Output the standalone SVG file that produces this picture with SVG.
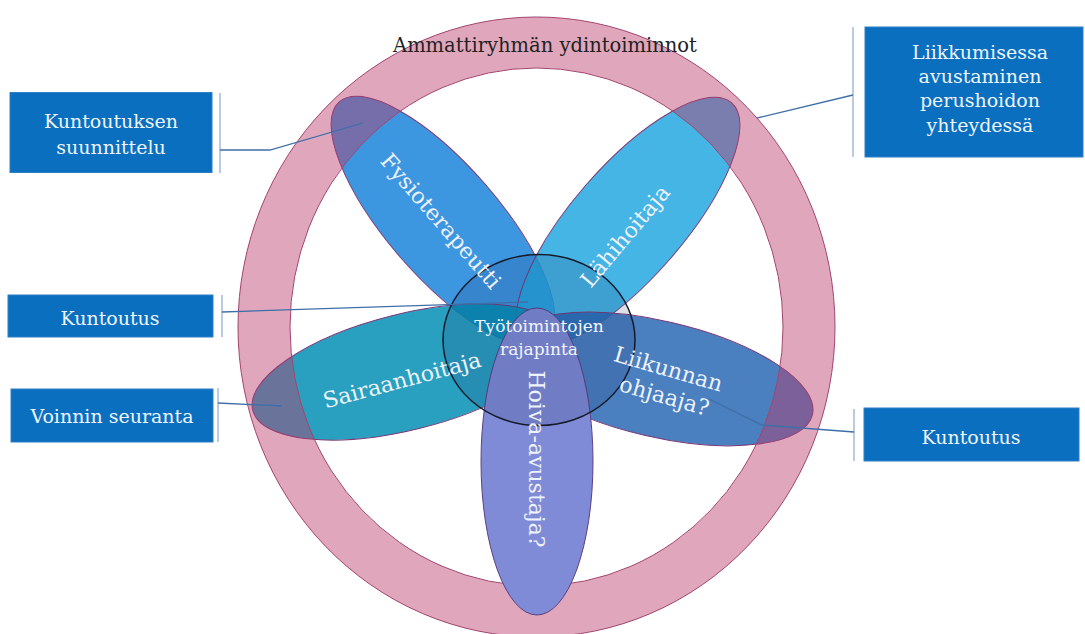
<svg xmlns="http://www.w3.org/2000/svg" width="1085" height="634" viewBox="0 0 1085 634">
  <defs>
    <style>
      .box { fill: #0a6fbf; stroke: #2f7fc6; stroke-width: 1; }
      .boxtxt { font-family: "DejaVu Serif", "Liberation Serif", serif; font-size: 19px; fill: #eef4fb; text-anchor: middle; }
      .bar { stroke: #a9bdd8; stroke-width: 1.6; fill: none; }
      .conn { stroke: #3f6fa8; stroke-width: 1.3; fill: none; }
      .petal { stroke: #7a3a78; stroke-width: 1; fill-opacity: 0.85; }
      .ptxt { font-family: "DejaVu Serif", "Liberation Serif", serif; font-size: 22px; fill: #eef2fb; text-anchor: middle; }
      .ctxt { font-family: "DejaVu Serif", "Liberation Serif", serif; font-size: 17px; fill: #f2f5fc; text-anchor: middle; }
      .title { font-family: "DejaVu Serif", "Liberation Serif", serif; font-size: 19.5px; fill: #222222; text-anchor: middle; }
    </style>
  </defs>
  <rect width="1085" height="634" fill="#ffffff"/>

  <!-- petals that sit under the ring -->
  <g id="petal-fysioterapeutti">
    <ellipse class="petal" cx="443" cy="221" rx="158" ry="56" transform="rotate(49 443 221)" fill="#1b85db"/>
  </g>
  <g id="petal-lahihoitaja">
    <ellipse class="petal" cx="628" cy="222" rx="158" ry="56" transform="rotate(-49 628 222)" fill="#24a8e0"/>
  </g>
  <g id="petal-sairaanhoitaja">
    <ellipse class="petal" cx="406" cy="372" rx="158" ry="58" transform="rotate(-14 406 372)" fill="#048fb5"/>
  </g>
  <g id="petal-liikunnan-ohjaaja">
    <ellipse class="petal" cx="658.5" cy="379" rx="158" ry="58" transform="rotate(13 658.5 379)" fill="#2a68b5"/>
  </g>

  <!-- core-function ring -->
  <g id="ring">
    <path d="M238,327 a298.5,310 0 1,0 597,0 a298.5,310 0 1,0 -597,0 Z M290,327 a246.5,259 0 1,0 493,0 a246.5,259 0 1,0 -493,0 Z"
          fill="#bb3b6b" fill-opacity="0.45" fill-rule="evenodd" stroke="#a3446f" stroke-width="1"/>
    <text class="title" x="545" y="52">Ammattiryhmän ydintoiminnot</text>
  </g>

  <!-- bottom petal drawn over the ring -->
  <g id="petal-hoiva-avustaja">
    <ellipse cx="537" cy="461.5" rx="56" ry="153.5" fill="#7f8bd6" stroke="#5e3f80" stroke-width="1"/>
  </g>

  <!-- shared interface circle -->
  <g id="interface">
    <ellipse cx="539" cy="340" rx="96" ry="85.5" fill="#14205a" fill-opacity="0.14" stroke="#151a2a" stroke-width="1.5"/>
  </g>

  <!-- petal labels -->
  <g id="petal-labels">
    <text class="ptxt" transform="translate(441 221) rotate(49)" dy="0.35em">Fysioterapeutti</text>
    <text class="ptxt" transform="translate(625 236) rotate(-50)" dy="0.35em">Lähihoitaja</text>
    <text class="ptxt" transform="translate(402 380) rotate(-15)" dy="0.35em">Sairaanhoitaja</text>
    <text class="ptxt" transform="translate(668 383) rotate(16)">
      <tspan x="0" y="-6">Liikunnan</tspan>
      <tspan x="0" y="21">ohjaaja?</tspan>
    </text>
    <text class="ptxt" transform="translate(537 459) rotate(90)" dy="0.35em">Hoiva-avustaja?</text>
    <text class="ctxt" x="539" y="332">Työtoimintojen</text>
    <text class="ctxt" x="539" y="355">rajapinta</text>
  </g>

  <!-- callout boxes -->
  <g id="box-kuntoutuksen-suunnittelu">
    <rect class="box" x="10" y="92.5" width="202" height="80"/>
    <text class="boxtxt" x="111" y="128">Kuntoutuksen</text>
    <text class="boxtxt" x="111" y="154">suunnittelu</text>
  </g>
  <g id="box-liikkumisessa-avustaminen">
    <rect class="box" x="865" y="27" width="218" height="130"/>
    <text class="boxtxt" x="980" y="59">Liikkumisessa</text>
    <text class="boxtxt" x="980" y="83">avustaminen</text>
    <text class="boxtxt" x="980" y="107">perushoidon</text>
    <text class="boxtxt" x="980" y="131.5">yhteydessä</text>
  </g>
  <g id="box-kuntoutus-left">
    <rect class="box" x="8" y="295" width="205" height="42"/>
    <text class="boxtxt" x="110" y="325">Kuntoutus</text>
  </g>
  <g id="box-voinnin-seuranta">
    <rect class="box" x="11" y="389" width="202" height="53"/>
    <text class="boxtxt" x="112" y="423">Voinnin seuranta</text>
  </g>
  <g id="box-kuntoutus-right">
    <rect class="box" x="864" y="408" width="215" height="53"/>
    <text class="boxtxt" x="971" y="444">Kuntoutus</text>
  </g>

  <!-- connectors: bracket bars and leader lines -->
  <g id="connectors">
    <line class="bar" x1="220" y1="93" x2="220" y2="173"/>
    <polyline class="conn" points="220,150 270,150 363,123"/>

    <line class="bar" x1="853" y1="27" x2="853" y2="157"/>
    <polyline class="conn" points="853,95 757,118"/>

    <line class="bar" x1="222" y1="295" x2="222" y2="337"/>
    <polyline class="conn" points="222,312 528,302"/>

    <line class="bar" x1="218" y1="388" x2="218" y2="442"/>
    <polyline class="conn" points="218,403 282,406"/>

    <line class="bar" x1="854" y1="409" x2="854" y2="461"/>
    <polyline class="conn" points="854,432 762,425 709,399"/>
  </g>
</svg>
